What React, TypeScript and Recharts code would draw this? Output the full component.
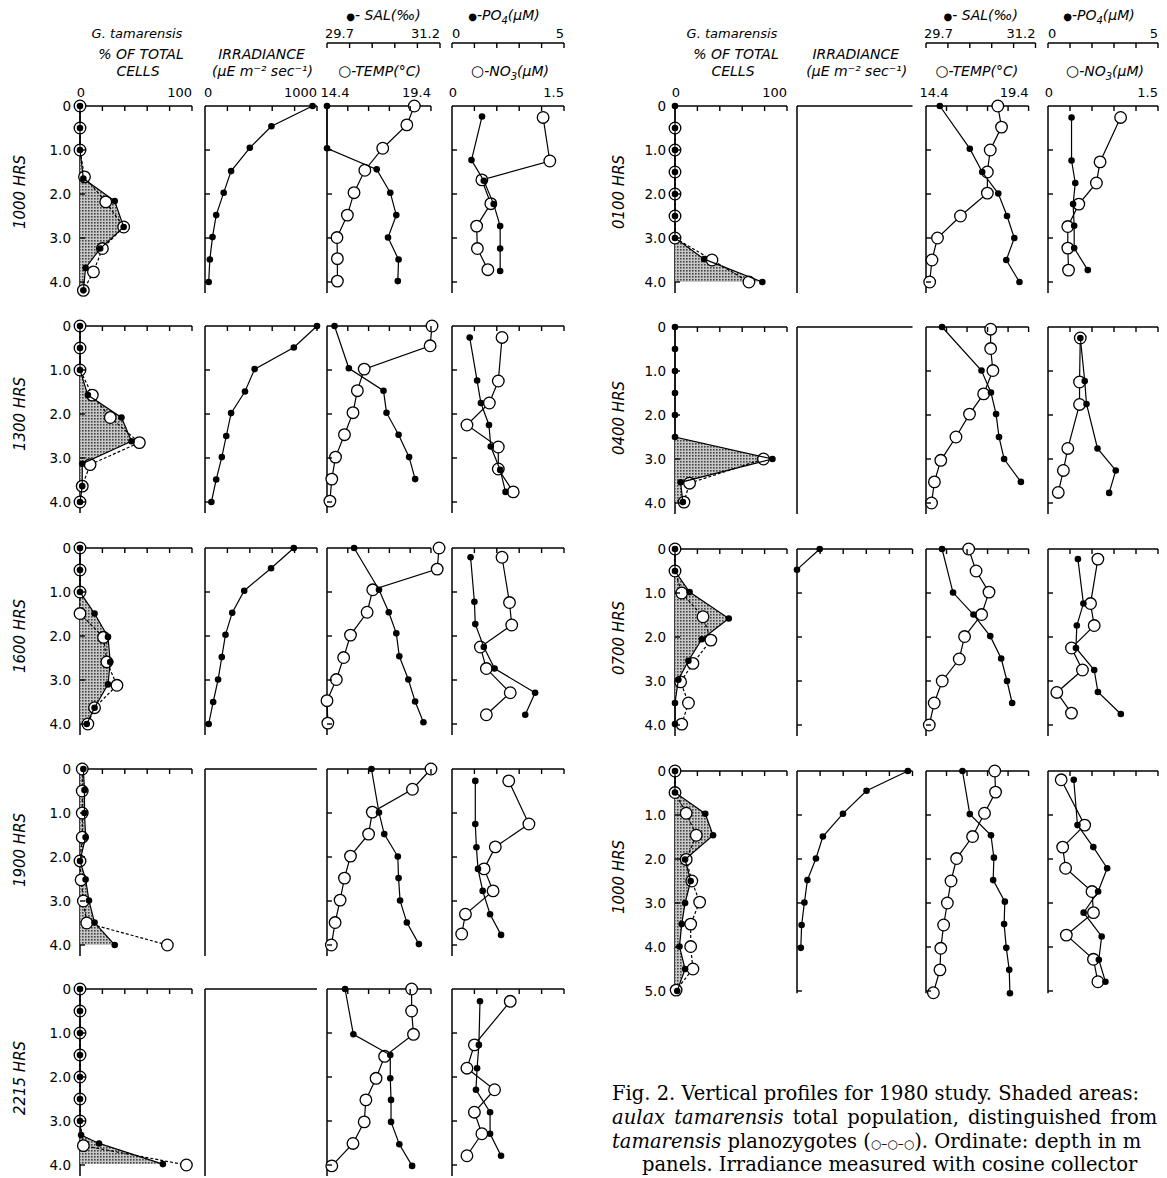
import React from 'react';
import { ComposedChart, Scatter, XAxis, YAxis, ReferenceLine } from 'recharts';

type Pt = [number, number]; // [value, depth m]

// ---------- LEFT COLUMN ----------
const L1000_TOT: Pt[] = [[0,0],[0,0.5],[0,1.0],[3,1.65],[31,2.16],[39,2.75],[18,3.24],[5,3.68],[3,4.19]];
const L1000_PLZ: Pt[] = [[0,0],[0,0.5],[0,1.0],[4,1.61],[23,2.18],[39,2.75],[20,3.24],[12,3.77],[3,4.19]];
const L1000_IRR: Pt[] = [[960,0],[593,0.46],[400,0.95],[233,1.48],[167,1.97],[100,2.48],[67,2.98],[43,3.49],[33,4.0]];
const L1000_TEMP: Pt[] = [[18.6,0],[18.24,0.43],[17.08,0.96],[16.22,1.46],[15.7,1.97],[15.38,2.48],[14.88,2.99],[14.9,3.47],[14.9,3.98]];
const L1000_SAL: Pt[] = [[29.7,0],[29.7,0.96],[30.36,1.44],[30.54,1.97],[30.62,2.48],[30.51,2.99],[30.65,3.49],[30.64,3.98]];
const L1000_NO3: Pt[] = [[1.22,0.26],[1.31,1.25],[0.4,1.68],[0.52,2.22],[0.33,2.73],[0.34,3.24],[0.48,3.72]];
const L1000_PO4: Pt[] = [[1.34,0.24],[0.87,1.23],[1.42,1.7],[1.86,2.23],[2.15,2.73],[2.15,3.24],[2.15,3.75]];

const L1300_TOT: Pt[] = [[0,0],[0,0.5],[0,1.0],[7,1.57],[37,2.08],[46,2.62],[2,3.13],[2,3.64],[0,4.0]];
const L1300_PLZ: Pt[] = [[0,0],[0,0.5],[0,1.0],[11,1.57],[27,2.08],[53,2.65],[9,3.15],[2,3.64],[0,4.0]];
const L1300_IRR: Pt[] = [[1000,0],[793,0.49],[443,0.98],[357,1.49],[233,1.98],[190,2.5],[150,2.98],[100,3.49],[57,4.0]];
const L1300_TEMP: Pt[] = [[19.45,0],[19.36,0.45],[16.19,0.98],[15.86,1.47],[15.65,1.97],[15.24,2.47],[14.81,2.98],[14.63,3.48],[14.54,3.98]];
const L1300_SAL: Pt[] = [[29.8,0],[29.99,0.96],[30.45,1.47],[30.49,1.97],[30.65,2.47],[30.79,2.98],[30.87,3.48]];
const L1300_NO3: Pt[] = [[0.67,0.26],[0.62,1.25],[0.5,1.75],[0.2,2.25],[0.62,2.75],[0.62,3.25],[0.82,3.77]];
const L1300_PO4: Pt[] = [[0.79,0.26],[1.12,1.24],[1.29,1.75],[1.65,2.25],[1.73,2.74],[2.15,3.27],[2.39,3.77]];

const L1600_TOT: Pt[] = [[0,0],[0,0.5],[0,1.0],[13,1.49],[25,2.02],[27,2.59],[25,3.1],[13,3.63],[6,4.0]];
const L1600_PLZ: Pt[] = [[0,0],[0,0.5],[0,1.0],[0,1.49],[21,2.03],[24,2.59],[33,3.12],[13,3.63],[7,4.0]];
const L1600_IRR: Pt[] = [[793,0],[590,0.46],[350,0.97],[243,1.47],[183,1.97],[150,2.48],[117,2.99],[73,3.5],[33,4.0]];
const L1600_TEMP: Pt[] = [[19.79,0],[19.7,0.48],[16.6,0.95],[16.33,1.46],[15.53,1.98],[15.2,2.49],[14.85,2.99],[14.4,3.47],[14.44,3.98]];
const L1600_SAL: Pt[] = [[30.06,0],[30.39,0.95],[30.52,1.46],[30.62,1.94],[30.66,2.46],[30.78,2.99],[30.87,3.49],[30.98,3.96]];
const L1600_NO3: Pt[] = [[0.67,0.21],[0.77,1.24],[0.8,1.75],[0.38,2.25],[0.46,2.74],[0.78,3.29],[0.46,3.79]];
const L1600_PO4: Pt[] = [[0.83,0.21],[1.0,1.22],[1.04,1.73],[1.42,2.25],[1.9,2.74],[3.71,3.29],[3.27,3.79]];

const L1900_TOT: Pt[] = [[3,0],[4,0.48],[4,1.0],[5,1.55],[0,2.09],[5,2.51],[8,2.99],[13,3.49],[31,4.0]];
const L1900_PLZ: Pt[] = [[2,0],[2,0.5],[2,1.0],[2,1.55],[0,2.09],[1,2.52],[3,3.0],[6,3.5],[78,4.0]];
const L1900_IRR: Pt[] = [];
const L1900_TEMP: Pt[] = [[19.4,0],[18.51,0.46],[16.58,0.98],[16.4,1.48],[15.53,1.98],[15.24,2.48],[15.03,2.98],[14.79,3.49],[14.61,4.0]];
const L1900_SAL: Pt[] = [[30.29,0],[30.39,0.99],[30.46,1.48],[30.64,1.99],[30.65,2.48],[30.67,2.99],[30.76,3.49],[30.92,3.98]];
const L1900_NO3: Pt[] = [[0.76,0.27],[1.03,1.25],[0.58,1.77],[0.43,2.27],[0.55,2.77],[0.18,3.3],[0.13,3.75]];
const L1900_PO4: Pt[] = [[1.04,0.27],[1.04,1.25],[1.09,1.78],[1.16,2.27],[1.37,2.77],[1.7,3.3],[2.19,3.77]];

const L2215_TOT: Pt[] = [[0,0],[0,0.5],[0,1.0],[0,1.5],[0,2.0],[0,2.5],[0,3.0],[1,3.32],[17,3.51],[74,3.98]];
const L2215_PLZ: Pt[] = [[0,0],[0,0.5],[0,1.0],[0,1.5],[0,2.0],[0,2.5],[0,3.0],[3,3.56],[95,4.0]];
const L2215_IRR: Pt[] = [];
const L2215_TEMP: Pt[] = [[18.47,0],[18.47,0.5],[18.56,1.03],[17.17,1.53],[16.76,2.03],[16.27,2.52],[16.19,3.02],[15.65,3.51],[14.63,4.02]];
const L2215_SAL: Pt[] = [[29.94,0],[30.05,1.03],[30.54,1.5],[30.54,2.03],[30.55,2.52],[30.55,3.02],[30.66,3.53],[30.83,4.02]];
const L2215_NO3: Pt[] = [[0.78,0.28],[0.3,1.27],[0.2,1.8],[0.57,2.29],[0.3,2.8],[0.4,3.29],[0.2,3.79]];
const L2215_PO4: Pt[] = [[1.25,0.28],[1.2,1.27],[1.12,1.8],[1.07,2.29],[1.7,2.8],[1.7,3.29],[2.19,3.79]];

// ---------- RIGHT COLUMN ----------
const R0100_TOT: Pt[] = [[0,0],[0,0.5],[0,1.0],[0,1.5],[0,2.0],[0,2.5],[0,3.0],[26,3.48],[78,4.0]];
const R0100_PLZ: Pt[] = [[0,0.5],[0,1.0],[0,1.5],[0,2.0],[0,2.5],[0,3.0],[33,3.5],[66,4.0]];
const R0100_IRR: Pt[] = [];
const R0100_TEMP: Pt[] = [[17.9,0],[18.08,0.48],[17.53,1.0],[17.39,1.5],[17.39,1.98],[16.08,2.5],[14.96,3.0],[14.69,3.5],[14.58,4.0]];
const R0100_SAL: Pt[] = [[29.89,0],[30.3,0.97],[30.47,1.5],[30.69,1.99],[30.81,2.5],[30.91,3.0],[30.8,3.5],[30.98,4.0]];
const R0100_NO3: Pt[] = [[0.99,0.26],[0.71,1.27],[0.66,1.75],[0.42,2.23],[0.27,2.74],[0.27,3.23],[0.28,3.73]];
const R0100_PO4: Pt[] = [[1.07,0.26],[1.07,1.24],[1.24,1.75],[1.14,2.23],[1.19,2.72],[1.19,3.23],[1.81,3.73]];

const R0400_TOT: Pt[] = [[0,0],[0,0.5],[0,1.0],[0,1.5],[0,2.0],[0,2.5],[87,3.0],[5,3.53],[7,3.98]];
const R0400_PLZ: Pt[] = [[79,3.0],[13,3.55],[8,3.98]];
const R0400_IRR: Pt[] = [];
const R0400_TEMP: Pt[] = [[17.55,0.05],[17.55,0.49],[17.66,0.99],[17.21,1.52],[16.52,1.98],[15.86,2.5],[15.12,3.03],[14.81,3.52],[14.67,4.0]];
const R0400_SAL: Pt[] = [[29.92,0],[30.46,0.99],[30.59,1.49],[30.66,1.98],[30.7,2.5],[30.77,3.0],[31.0,3.52]];
const R0400_NO3: Pt[] = [[0.44,0.25],[0.43,1.25],[0.43,1.76],[0.27,2.76],[0.21,3.26],[0.14,3.76]];
const R0400_PO4: Pt[] = [[1.47,0.25],[1.67,1.23],[1.75,1.75],[2.25,2.76],[3.08,3.26],[2.78,3.77]];

const R0700_TOT: Pt[] = [[0,0],[0,0.5],[13,0.98],[48,1.58],[24,2.05],[12,2.54],[3,2.97],[0,3.5],[0,3.98]];
const R0700_PLZ: Pt[] = [[0,0],[0,0.5],[6,1.0],[25,1.54],[32,2.07],[16,2.6],[5,3.02],[12,3.5],[6,3.98]];
const R0700_IRR: Pt[] = [[197,0],[0,0.47]];
const R0700_TEMP: Pt[] = [[16.48,0],[16.84,0.5],[17.47,0.98],[17.11,1.49],[16.28,1.99],[16.02,2.5],[15.19,3.0],[14.8,3.5],[14.56,4.0]];
const R0700_SAL: Pt[] = [[29.92,0],[30.07,0.99],[30.35,1.49],[30.58,1.98],[30.73,2.49],[30.81,3.0],[30.88,3.5]];
const R0700_NO3: Pt[] = [[0.68,0.23],[0.58,1.24],[0.63,1.74],[0.32,2.25],[0.47,2.75],[0.12,3.26],[0.32,3.73]];
const R0700_PO4: Pt[] = [[1.36,0.23],[1.61,1.24],[1.31,1.74],[1.27,2.25],[2.1,2.75],[2.27,3.25],[3.31,3.75]];

const R1000_TOT: Pt[] = [[0,0],[0,0.49],[27,0.97],[34,1.46],[9,2.01],[14,2.5],[9,3.0],[6,3.48],[4,3.99],[9,4.5],[2,5.0]];
const R1000_PLZ: Pt[] = [[0,0],[0,0.49],[10,0.96],[19,1.46],[10,2.01],[15,2.5],[22,2.98],[14,3.48],[14,3.99],[16,4.5],[1,4.98]];
const R1000_IRR: Pt[] = [[960,0],[602,0.45],[398,0.97],[224,1.49],[164,1.99],[90,2.48],[64,2.99],[40,3.5],[33,4.02]];
const R1000_TEMP: Pt[] = [[17.75,0],[17.79,0.48],[17.25,0.96],[16.67,1.49],[15.89,1.99],[15.62,2.5],[15.44,3.0],[15.26,3.5],[15.12,4.03],[15.08,4.52],[14.76,5.04]];
const R1000_SAL: Pt[] = [[30.2,0],[30.3,0.98],[30.59,1.46],[30.63,1.97],[30.62,2.48],[30.78,2.97],[30.77,3.48],[30.8,4.02],[30.84,4.52],[30.85,5.05]];
const R1000_NO3: Pt[] = [[0.18,0.2],[0.5,1.23],[0.2,1.73],[0.24,2.21],[0.6,2.74],[0.62,3.22],[0.25,3.73],[0.62,4.28],[0.68,4.79]];
const R1000_PO4: Pt[] = [[1.17,0.2],[1.34,1.23],[2.06,1.73],[2.69,2.21],[2.28,2.74],[1.62,3.22],[2.44,3.76],[2.31,4.29],[2.61,4.79]];

// ---------- AXES ----------
const CELL_TICKS = [0, 20, 40, 60, 80, 100];
const IRR_TICKS = [0, 200, 400, 600, 800, 1000];
const TEMP_TICKS = [14.4, 15.4, 16.4, 17.4, 18.4, 19.4];
const SAL_TICKS = [29.7, 30.0, 30.3, 30.6, 30.9, 31.2];
const NO3_TICKS = [0, 0.3, 0.6, 0.9, 1.2, 1.5];
const PO4_TICKS = [0, 1, 2, 3, 4, 5];

const HOURS_LEFT = ['1000 HRS', '1300 HRS', '1600 HRS', '1900 HRS', '2215 HRS'];
const HOURS_RIGHT = ['0100 HRS', '0400 HRS', '0700 HRS', '1000 HRS'];

// ---------- LAYOUT ----------
type Col = [number, number];
type Group = { cells: Col; irr: Col; ts: Col; nut: Col; hrsX: number; ratio: number };
const LEFT: Group = { cells: [80, 112], irr: [204.5, 112], ts: [327, 113], nut: [452, 112], hrsX: 20, ratio: 0.92 };
const RIGHT: Group = { cells: [675, 112], irr: [797, 115.5], ts: [926, 109.5], nut: [1048, 110], hrsX: 619, ratio: 0.937 };

type Row = {
  g: Group; y: number; dMax: number; header: boolean; hrs: string; hrsDy: number;
  tot: Pt[]; plz: Pt[]; irr: Pt[]; temp: Pt[]; sal: Pt[]; no3: Pt[]; po4: Pt[];
};

const ROWS: Row[] = [
  { g: LEFT, y: 106, dMax: 4.25, header: true, hrs: HOURS_LEFT[0], hrsDy: 86, tot: L1000_TOT, plz: L1000_PLZ, irr: L1000_IRR, temp: L1000_TEMP, sal: L1000_SAL, no3: L1000_NO3, po4: L1000_PO4 },
  { g: LEFT, y: 326, dMax: 4.25, header: false, hrs: HOURS_LEFT[1], hrsDy: 88, tot: L1300_TOT, plz: L1300_PLZ, irr: L1300_IRR, temp: L1300_TEMP, sal: L1300_SAL, no3: L1300_NO3, po4: L1300_PO4 },
  { g: LEFT, y: 548, dMax: 4.25, header: false, hrs: HOURS_LEFT[2], hrsDy: 88, tot: L1600_TOT, plz: L1600_PLZ, irr: L1600_IRR, temp: L1600_TEMP, sal: L1600_SAL, no3: L1600_NO3, po4: L1600_PO4 },
  { g: LEFT, y: 769, dMax: 4.25, header: false, hrs: HOURS_LEFT[3], hrsDy: 81, tot: L1900_TOT, plz: L1900_PLZ, irr: L1900_IRR, temp: L1900_TEMP, sal: L1900_SAL, no3: L1900_NO3, po4: L1900_PO4 },
  { g: LEFT, y: 989, dMax: 4.25, header: false, hrs: HOURS_LEFT[4], hrsDy: 89, tot: L2215_TOT, plz: L2215_PLZ, irr: L2215_IRR, temp: L2215_TEMP, sal: L2215_SAL, no3: L2215_NO3, po4: L2215_PO4 },
  { g: RIGHT, y: 106, dMax: 4.25, header: true, hrs: HOURS_RIGHT[0], hrsDy: 86, tot: R0100_TOT, plz: R0100_PLZ, irr: R0100_IRR, temp: R0100_TEMP, sal: R0100_SAL, no3: R0100_NO3, po4: R0100_PO4 },
  { g: RIGHT, y: 327, dMax: 4.25, header: false, hrs: HOURS_RIGHT[1], hrsDy: 91, tot: R0400_TOT, plz: R0400_PLZ, irr: R0400_IRR, temp: R0400_TEMP, sal: R0400_SAL, no3: R0400_NO3, po4: R0400_PO4 },
  { g: RIGHT, y: 549, dMax: 4.25, header: false, hrs: HOURS_RIGHT[2], hrsDy: 89, tot: R0700_TOT, plz: R0700_PLZ, irr: R0700_IRR, temp: R0700_TEMP, sal: R0700_SAL, no3: R0700_NO3, po4: R0700_PO4 },
  { g: RIGHT, y: 771, dMax: 5.05, header: false, hrs: HOURS_RIGHT[3], hrsDy: 106, tot: R1000_TOT, plz: R1000_PLZ, irr: R1000_IRR, temp: R1000_TEMP, sal: R1000_SAL, no3: R1000_NO3, po4: R1000_PO4 },
];

const PXM = 44;
const YW = 40;
const SEC_H = 43;
const TOP_PAD = 16;
const FONT = 'DejaVu Sans, sans-serif';
const NUM = 13;

type AxisDef = {
  domain: [number, number]; ticks: number[]; fmt: (v: number) => string;
  anchor: 'start' | 'middle'; dx: number; lineEnd?: number;
};

const obj = (a: Pt[]) => a.map(([v, d]) => ({ v, d }));

function makeXTick(ax: AxisDef, labels: boolean, skipFirst: boolean, labelDy: number) {
  const first = ax.ticks[0];
  const last = ax.ticks[ax.ticks.length - 1];
  return (p: any) => {
    const v = Number(p.payload ? p.payload.value : NaN);
    const isF = Math.abs(v - first) < 1e-6;
    const isL = Math.abs(v - last) < 1e-6;
    return (
      <g>
        {!(skipFirst && isF) && <line x1={p.x} y1={p.y} x2={p.x} y2={p.y + 5} stroke="#000" strokeWidth={1.4} />}
        {labels && (isF || isL) && (
          <text x={p.x + (isF ? ax.dx : 0)} y={p.y - labelDy} textAnchor={isF ? ax.anchor : 'end'}
            fontFamily={FONT} fontSize={NUM} fill="#000">{ax.fmt(v)}</text>
        )}
      </g>
    );
  };
}

function makeYTick(labels: boolean) {
  return (p: any) => {
    const v = Number(p.payload ? p.payload.value : NaN);
    return (
      <g>
        {v > 0 && <line x1={p.x} y1={p.y} x2={p.x + 5} y2={p.y} stroke="#000" strokeWidth={1.4} />}
        {labels && (
          <text x={p.x - 9} y={p.y} dy="0.36em" textAnchor="end" fontFamily={FONT} fontSize={13.5} fill="#000">
            {v === 0 ? '0' : v.toFixed(1)}
          </text>
        )}
      </g>
    );
  };
}

const ringShape = (p: any) => <circle cx={p.cx} cy={p.cy} r={5.8} fill="#fff" stroke="#000" strokeWidth={1.3} />;
const dotShape = (p: any) => <circle cx={p.cx} cy={p.cy} r={3.3} fill="#000" />;
const noShape = () => <g />;
const shadeLine = (p: any) => {
  const pts = (p && p.points) || [];
  if (!pts.length) return <g />;
  const d = 'M' + pts.map((q: any) => `${q.x},${q.y}`).join('L') + 'Z';
  return <path d={d} fill="url(#stip)" stroke="none" />;
};

type SeriesDef = { axis: 'm' | 's'; data: Pt[]; kind: 'dot' | 'ring' | 'shade'; dashed?: boolean };

function Panel({ col, row, main, sec, yLabels, series }: {
  col: Col; row: Row; main: AxisDef; sec?: AxisDef; yLabels: boolean; series: SeriesDef[];
}) {
  const [x, w] = col;
  const plotH = row.dMax * PXM;
  const top = row.header ? 0 : row.y - TOP_PAD;
  const mainH = row.header ? (sec ? row.y - SEC_H : row.y) : TOP_PAD;
  const H = row.y - top + plotH + 10;
  const W = YW + w + 16;
  const dTicks: number[] = [];
  for (let i = 0; i <= Math.floor(row.dMax + 1e-9); i++) dTicks.push(i);
  return (
    <div style={{ position: 'absolute', left: x - YW, top }}>
      <ComposedChart width={W} height={H} margin={{ top: 0, right: 16, bottom: 10, left: 0 }}>
        <XAxis xAxisId="m" orientation="top" type="number" dataKey="v" domain={main.domain} ticks={main.ticks}
          interval={0} height={mainH} tickSize={0} tickMargin={0} tickLine={false}
          axisLine={main.lineEnd === undefined ? { stroke: '#000', strokeWidth: 1.5 } : false}
          tick={makeXTick(main, row.header, true, 9)} />
        {sec && (
          <XAxis xAxisId="s" orientation="top" type="number" dataKey="v" domain={sec.domain} ticks={sec.ticks}
            interval={0} height={SEC_H} hide={!row.header} tickSize={0} tickMargin={0} tickLine={false}
            axisLine={{ stroke: '#000', strokeWidth: 1.5 }} tick={makeXTick(sec, true, false, 5)} />
        )}
        <YAxis type="number" dataKey="d" domain={[0, row.dMax]} reversed ticks={dTicks} interval={0}
          width={YW} tickSize={0} tickMargin={0} tickLine={false}
          axisLine={{ stroke: '#000', strokeWidth: 1.5 }} tick={makeYTick(yLabels)} />
        {main.lineEnd !== undefined && (
          <ReferenceLine xAxisId="m" segment={[{ x: main.domain[0], y: 0 }, { x: main.lineEnd, y: 0 }]}
            stroke="#000" strokeWidth={1.5} ifOverflow="visible" />
        )}
        {series.filter((s) => s.data.length > 0).map((s, i) => {
          if (s.kind === 'shade') {
            const closed: Pt[] = [[0, s.data[0][1]], ...s.data, [0, s.data[s.data.length - 1][1]]];
            return (
              <Scatter key={i} xAxisId={s.axis} data={obj(closed)} line={shadeLine} shape={noShape}
                isAnimationActive={false} />
            );
          }
          return (
            <Scatter key={i} xAxisId={s.axis} data={obj(s.data)}
              line={{ stroke: '#000', strokeWidth: 1.2, strokeDasharray: s.dashed ? '3 2' : undefined }}
              shape={s.kind === 'ring' ? ringShape : dotShape} isAnimationActive={false} />
          );
        })}
      </ComposedChart>
    </div>
  );
}

const fmt1 = (v: number) => (v === 0 ? '0' : v.toFixed(1));

function RowView({ row }: { row: Row }) {
  const g = row.g;
  const tempMax = 14.4 + 5 / g.ratio;
  return (
    <>
      <Panel col={g.cells} row={row} yLabels
        main={{ domain: [0, 100], ticks: CELL_TICKS, fmt: (v) => String(v), anchor: 'middle', dx: 1 }}
        series={[
          { axis: 'm', data: row.tot, kind: 'shade' },
          { axis: 'm', data: row.plz, kind: 'ring', dashed: true },
          { axis: 'm', data: row.tot, kind: 'dot' },
        ]} />
      <Panel col={g.irr} row={row} yLabels={false}
        main={{ domain: [0, 1000], ticks: IRR_TICKS, fmt: (v) => String(v), anchor: 'start', dx: -1 }}
        series={[{ axis: 'm', data: row.irr, kind: 'dot' }]} />
      <Panel col={g.ts} row={row} yLabels={false}
        main={{ domain: [14.4, tempMax], ticks: TEMP_TICKS, fmt: (v) => v.toFixed(1), anchor: 'middle', dx: 8, lineEnd: 19.4 }}
        sec={{ domain: [29.7, 31.2], ticks: SAL_TICKS, fmt: (v) => v.toFixed(1), anchor: 'start', dx: -2 }}
        series={[
          { axis: 'm', data: row.temp, kind: 'ring' },
          { axis: 's', data: row.sal, kind: 'dot' },
        ]} />
      <Panel col={g.nut} row={row} yLabels={false}
        main={{ domain: [0, 1.5], ticks: NO3_TICKS, fmt: fmt1, anchor: 'middle', dx: 1 }}
        sec={{ domain: [0, 5], ticks: PO4_TICKS, fmt: (v) => String(v), anchor: 'start', dx: 0 }}
        series={[
          { axis: 'm', data: row.no3, kind: 'ring' },
          { axis: 's', data: row.po4, kind: 'dot' },
        ]} />
    </>
  );
}

const LBL = { fontFamily: FONT, fontStyle: 'italic' as const, fontSize: 14, fill: '#000' };

function Header({ g }: { g: Group }) {
  const c = (col: Col) => col[0] + col[1] / 2;
  return (
    <g>
      <text x={c(g.cells) + 1} y={38} textAnchor="middle" {...LBL} fontSize={13}>G. tamarensis</text>
      <text x={c(g.cells) + 5} y={59} textAnchor="middle" {...LBL}>% OF TOTAL</text>
      <text x={c(g.cells) + 2} y={76} textAnchor="middle" {...LBL}>CELLS</text>
      <text x={c(g.irr) + 1} y={59} textAnchor="middle" {...LBL}>IRRADIANCE</text>
      <text x={c(g.irr) + 2} y={76} textAnchor="middle" {...LBL}>(µE m⁻² sec⁻¹)</text>
      <text x={c(g.ts)} y={20} textAnchor="middle" {...LBL}><tspan fontSize={10} fontStyle="normal">●</tspan>- SAL(‰)</text>
      <text x={c(g.ts) - 4} y={76} textAnchor="middle" {...LBL}><tspan fontSize={15} fontStyle="normal">○</tspan>-TEMP(°C)</text>
      <text x={c(g.nut) - 4} y={20} textAnchor="middle" {...LBL}><tspan fontSize={10} fontStyle="normal">●</tspan>-PO<tspan fontSize={10} dy={4}>4</tspan><tspan dy={-4}>(µM)</tspan></text>
      <text x={c(g.nut) + 2} y={76} textAnchor="middle" {...LBL}><tspan fontSize={15} fontStyle="normal">○</tspan>-NO<tspan fontSize={10} dy={4}>3</tspan><tspan dy={-4}>(µM)</tspan></text>
    </g>
  );
}

const SERIF = 'DejaVu Serif, serif';

export default function App() {
  return (
    <div style={{ position: 'absolute', left: 0, top: 0, width: 1167, height: 1178, overflow: 'hidden', background: '#fff' }}>
      <svg width={0} height={0} style={{ position: 'absolute' }}>
        <defs>
          <pattern id="stip" width={3} height={3} patternUnits="userSpaceOnUse">
            <rect width={3} height={3} fill="#c8c8c8" />
            <rect width={1.6} height={1.6} fill="#444" />
          </pattern>
        </defs>
      </svg>
      {ROWS.map((r, i) => <RowView key={i} row={r} />)}
      <svg width={1167} height={1178} style={{ position: 'absolute', left: 0, top: 0, pointerEvents: 'none' }}>
        <Header g={LEFT} />
        <Header g={RIGHT} />
        {ROWS.map((r, i) => {
          const cy = r.y + r.hrsDy;
          return (
            <text key={i} x={r.g.hrsX} y={cy} dy="0.36em" textAnchor="middle" transform={`rotate(-90 ${r.g.hrsX} ${cy})`}
              fontFamily={FONT} fontStyle="italic" fontSize={15}>{r.hrs}</text>
          );
        })}
        <g fontFamily={SERIF} fontSize={19.5} fill="#000">
          <text x={612} y={1100}>Fig. 2. Vertical profiles for 1980 study. Shaded areas:</text>
          <text x={612} y={1124} wordSpacing={3}><tspan fontStyle="italic">aulax tamarensis</tspan> total population, distinguished from</text>
          <text x={612} y={1148}><tspan fontStyle="italic">tamarensis</tspan> planozygotes (<tspan fontSize={12}>○–○–○</tspan>). Ordinate: depth in m</text>
          <text x={642} y={1171}>panels. Irradiance measured with cosine collector</text>
        </g>
      </svg>
    </div>
  );
}
